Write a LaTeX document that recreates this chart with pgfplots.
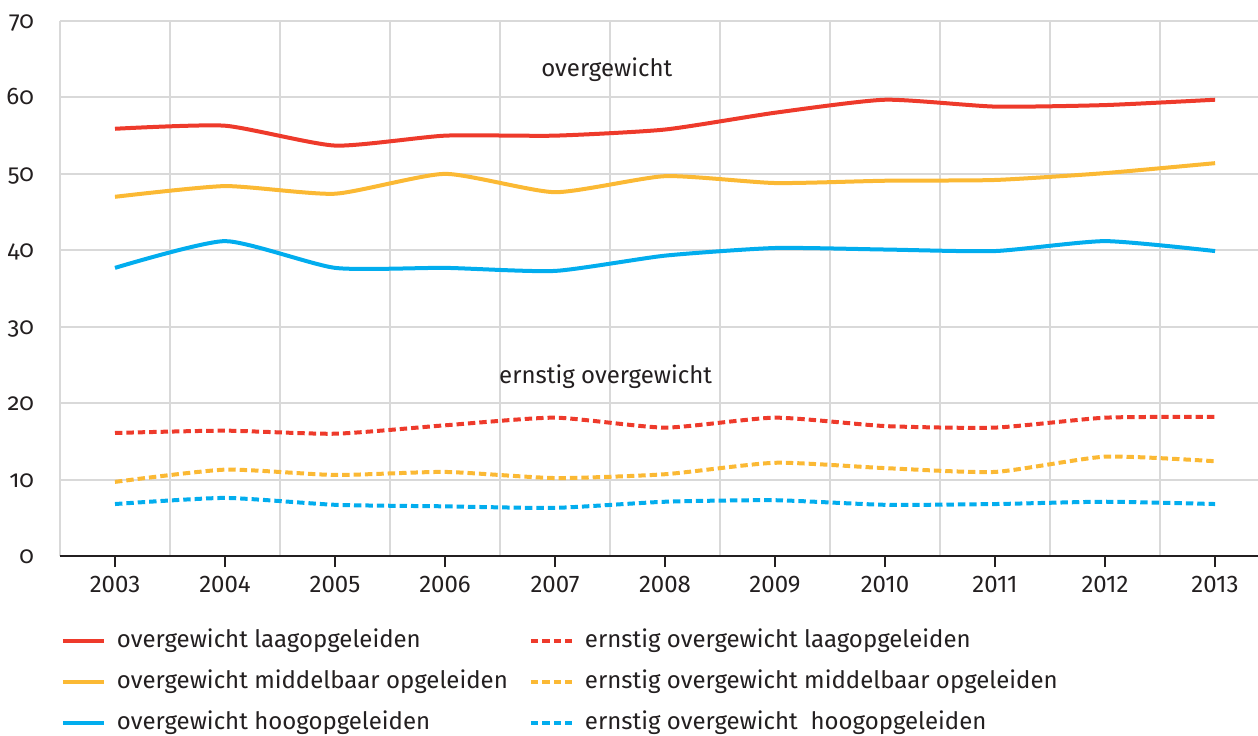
\documentclass[border=0pt]{standalone}
\usepackage{pgfplots}
\pgfplotsset{compat=1.18}
\usepackage{fontspec}
\setmainfont{Fira Sans}
\newfontfamily\onumfont[Numbers=OldStyle]{Fira Sans}
\definecolor{cred}{HTML}{EE3A2B}
\definecolor{cyel}{HTML}{FBB934}
\definecolor{cblu}{HTML}{02ADEE}
\definecolor{cgrid}{HTML}{D9D9D9}
\definecolor{ctxt}{HTML}{231F20}
\begin{document}
\begin{tikzpicture}
\begin{axis}[
  scale only axis,
  width=599pt, height=267.5pt,
  xmin=2002.5, xmax=2013.39,
  ymin=0, ymax=70,
  axis x line*=bottom,
  axis y line*=left,
  x axis line style={-, draw=ctxt, line width=1pt},
  y axis line style={draw=none},
  xtick={2003,...,2013},
  minor xtick={2002.5,2003.5,...,2013.5},
  ytick={0,10,...,70},
  xticklabel={\pgfmathprintnumber[1000 sep={}]{\tick}},
  xmajorgrids=false, xminorgrids=true, ymajorgrids=true,
  minor grid style={draw=cgrid, line width=1pt},
  major grid style={draw=cgrid, line width=1pt},
  tick align=outside,
  major tick length=5.5pt,
  minor tick length=0pt,
  x tick style={draw=ctxt, line width=1pt},
  y tick style={draw=none},
  /pgf/number format/assume math mode=true,
  tick label style={font=\fontsize{12}{14}\selectfont, text=ctxt},
  xticklabel style={anchor=base, yshift=-12.5pt},
  yticklabel style={font=\fontsize{12}{14}\selectfont\onumfont, anchor=base east, xshift=-4pt, yshift=-3.75pt},
  legend columns=2,
  legend cell align=left,
  legend image code/.code={\draw[#1] (0pt,0pt) -- (20.5pt,0pt);},
  legend style={at={(axis description cs:0,0)}, anchor=north west, xshift=0.5pt, yshift=-36.5pt,
    draw=none, fill=none, inner sep=0pt, outer sep=0pt, row sep=8.5pt,
    font=\fontsize{12}{14}\selectfont, text=ctxt,
    nodes={inner sep=0pt, text height=9pt, text depth=3pt},
    /tikz/every odd column/.style={column sep=5.5pt},
    /tikz/every even column/.style={column sep=0pt}},
  every axis plot/.append style={line width=2pt, smooth, tension=0.35},
  clip=false,
]
\addplot[cred] coordinates {(2003,55.9)(2004,56.3)(2005,53.7)(2006,55.0)(2007,55.0)(2008,55.8)(2009,58.0)(2010,59.7)(2011,58.8)(2012,59.0)(2013,59.7)};
\addlegendentry{\makebox[206pt][l]{overgewicht laagopgeleiden}}
\addplot[cred, dash pattern=on 3.7pt off 2pt] coordinates {(2003,16.1)(2004,16.4)(2005,16.0)(2006,17.1)(2007,18.1)(2008,16.8)(2009,18.1)(2010,17.0)(2011,16.8)(2012,18.1)(2013,18.2)};
\addlegendentry{ernstig overgewicht laagopgeleiden}
\addplot[cyel] coordinates {(2003,47.0)(2004,48.4)(2005,47.4)(2006,50.0)(2007,47.6)(2008,49.7)(2009,48.8)(2010,49.1)(2011,49.2)(2012,50.1)(2013,51.4)};
\addlegendentry{\makebox[206pt][l]{overgewicht middelbaar opgeleiden}}
\addplot[cyel, dash pattern=on 3.7pt off 2pt] coordinates {(2003,9.7)(2004,11.3)(2005,10.6)(2006,11.0)(2007,10.2)(2008,10.7)(2009,12.2)(2010,11.5)(2011,11.0)(2012,13.0)(2013,12.4)};
\addlegendentry{ernstig overgewicht middelbaar opgeleiden}
\addplot[cblu] coordinates {(2003,37.7)(2004,41.2)(2005,37.7)(2006,37.7)(2007,37.3)(2008,39.3)(2009,40.3)(2010,40.1)(2011,39.9)(2012,41.2)(2013,39.9)};
\addlegendentry{\makebox[206pt][l]{overgewicht hoogopgeleiden}}
\addplot[cblu, dash pattern=on 3.7pt off 2pt] coordinates {(2003,6.8)(2004,7.6)(2005,6.7)(2006,6.5)(2007,6.3)(2008,7.1)(2009,7.3)(2010,6.7)(2011,6.8)(2012,7.1)(2013,6.8)};
\addlegendentry{ernstig overgewicht\ \ hoogopgeleiden}
\node[anchor=base, font=\fontsize{12}{14}\selectfont, text=ctxt] at (axis cs:2007.47,62.7) {overgewicht};
\node[anchor=base, font=\fontsize{12}{14}\selectfont, text=ctxt] at (axis cs:2007.46,22.6) {ernstig overgewicht};
\coordinate (bl) at (rel axis cs:0,0);
\coordinate (tr) at (rel axis cs:1,1);
\end{axis}
\pgfresetboundingbox
\path ([xshift=-30pt,yshift=-89.5pt]bl) rectangle ([yshift=10.5pt]tr);
\end{tikzpicture}
\end{document}
